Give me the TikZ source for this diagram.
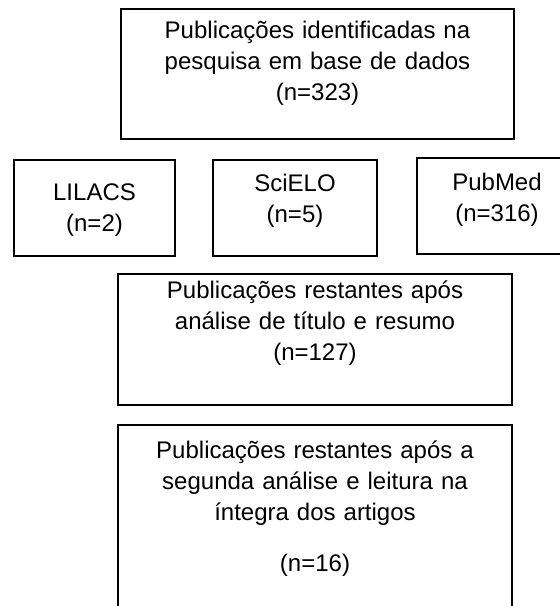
\documentclass[tikz,border=0pt]{standalone}
\usepackage{fontspec}
\setmainfont{Liberation Sans}
\usepackage{tikz}
\usetikzlibrary{positioning}

\tikzset{
  etapa/.style={draw, line width=1pt, align=center, inner sep=0pt, anchor=north west,
    font=\fontsize{12}{15.5}\selectfont}
}

\begin{document}
\begin{tikzpicture}[x=1pt, y=-1pt]
    \path[use as bounding box, clip] (0,0) rectangle (280,303);

    % Busca inicial
    \node[etapa, text width=196.5pt, text height=14.5pt, text depth=50.5pt] (busca) at (60,4)
      {Publicações identificadas na\\ pesquisa em base de dados\\ (n=323)};

    % Bases de dados
    \node[etapa, text width=80.5pt, text height=20pt, text depth=28pt] (lilacs) at (6.5,79.5)
      {LILACS\\ (n=2)};
    \node[etapa, text width=82pt, text height=15.5pt, text depth=32.5pt] (scielo) at (106,79.5)
      {SciELO\\ (n=5)};
    \node[etapa, text width=80pt, text height=16pt, text depth=32pt] (pubmed) at (208,78.5)
      {PubMed\\ (n=316)};

    % Triagem
    \node[etapa, text width=197pt, text height=12pt, text depth=53.5pt] (triagem) at (58.5,136.5)
      {Publicações restantes após\\ análise de título e resumo\\ (n=127)};
    \node[etapa, text width=197pt, text height=16.5pt, text depth=112pt] (final) at (58.5,212)
      {Publicações restantes após a\\ segunda análise e leitura na\\ íntegra dos artigos\\[10pt] (n=16)};
\end{tikzpicture}
\end{document}
